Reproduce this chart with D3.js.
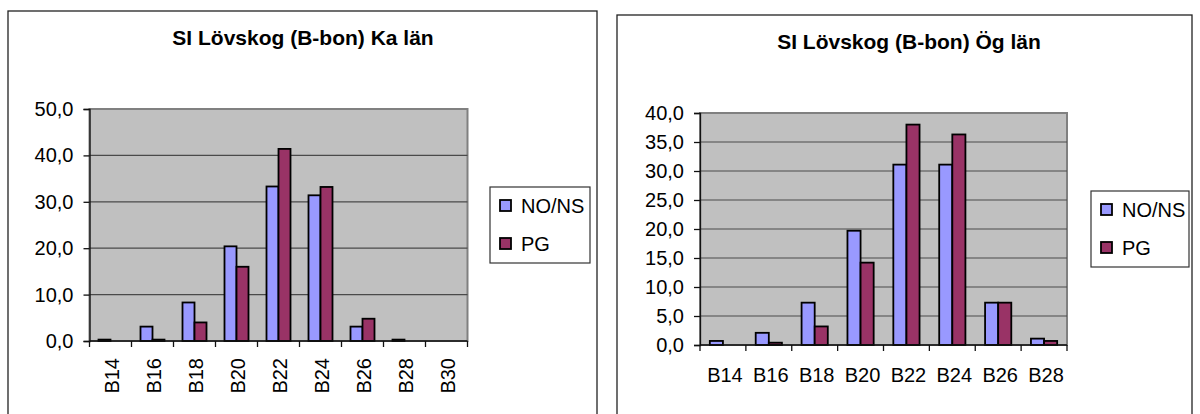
<!DOCTYPE html>
<html>
<head>
<meta charset="utf-8">
<script src="https://cdn.jsdelivr.net/npm/d3@7"></script>
<style>
  html, body { margin: 0; padding: 0; background: #fff; }
  svg { display: block; font-family: "Liberation Sans", Arial, sans-serif; }
</style>
</head>
<body>
<svg id="chart" width="1200" height="414"></svg>
<script>
// Series names shared by both panels
const seriesNames = ["NO/NS", "PG"];
const seriesColors = ["#9999FF", "#993366"];

// Panel 1: Kalmar län
const kaTitle = "SI Lövskog (B-bon) Ka län";
const kaCategories = ["B14", "B16", "B18", "B20", "B22", "B24", "B26", "B28", "B30"];
const kaNONS = [0.3, 3.1, 8.3, 20.4, 33.3, 31.4, 3.1, 0.3, 0];
const kaPG   = [0, 0.3, 4.0, 16.0, 41.4, 33.2, 4.8, 0, 0];
const kaTicks = [0, 10, 20, 30, 40, 50];

// Panel 2: Östergötlands län
const ogTitle = "SI Lövskog (B-bon) Ög län";
const ogCategories = ["B14", "B16", "B18", "B20", "B22", "B24", "B26", "B28"];
const ogNONS = [0.7, 2.1, 7.3, 19.7, 31.1, 31.1, 7.3, 1.1];
const ogPG   = [0, 0.4, 3.2, 14.2, 38.0, 36.3, 7.3, 0.7];
const ogTicks = [0, 5, 10, 15, 20, 25, 30, 35, 40];

const svg = d3.select("#chart");
const sv = d3.formatLocale({ decimal: ",", thousands: "\u00a0", grouping: [3], currency: ["", " kr"] });
const fmt = sv.format(".1f");

function drawPanel(cfg) {
  const g = svg.append("g");
  const { frame, plot, legend } = cfg;

  // outer chart frame (runs past the bottom of the view)
  g.append("rect")
    .attr("x", frame.x).attr("y", frame.y)
    .attr("width", frame.w).attr("height", frame.h)
    .attr("fill", "#fff").attr("stroke", "#222").attr("stroke-width", 1.3);

  // title
  g.append("text")
    .attr("x", cfg.titleX).attr("y", cfg.titleY)
    .attr("text-anchor", "middle")
    .attr("font-size", 21).attr("font-weight", "bold")
    .text(cfg.title);

  const x = d3.scaleBand().domain(cfg.categories).range([plot.x0, plot.x1]).padding(0);
  const y = d3.scaleLinear().domain([0, d3.max(cfg.ticks)]).range([plot.y1, plot.y0]);

  // plot area background
  g.append("rect")
    .attr("x", plot.x0).attr("y", plot.y0)
    .attr("width", plot.x1 - plot.x0).attr("height", plot.y1 - plot.y0)
    .attr("fill", "#C0C0C0").attr("stroke", "#808080").attr("stroke-width", 2);

  // gridlines
  g.append("g").selectAll("line")
    .data(cfg.ticks.filter(t => t > 0 && t < d3.max(cfg.ticks)))
    .join("line")
    .attr("x1", plot.x0).attr("x2", plot.x1)
    .attr("y1", d => y(d)).attr("y2", d => y(d))
    .attr("stroke", "#4a4a4a").attr("stroke-width", 1.2);

  // y axis
  const yAxis = d3.axisLeft(y).tickValues(cfg.ticks).tickFormat(fmt).tickSize(6).tickPadding(10);
  const ya = g.append("g").attr("transform", `translate(${plot.x0},0)`).call(yAxis);
  ya.select(".domain").attr("stroke", "#111").attr("stroke-width", 1.3);
  ya.selectAll(".tick line").attr("stroke", "#111").attr("stroke-width", 1.3);
  ya.selectAll(".tick text").attr("font-size", 20).attr("fill", "#000")
    .attr("font-family", "Liberation Sans, Arial, sans-serif");

  // bars
  const bw = x.bandwidth() / 3.5;
  const off = x.bandwidth() * 0.75 / 3.5;
  const series = [cfg.nons, cfg.pg];
  series.forEach((vals, si) => {
    g.append("g").selectAll("rect")
      .data(cfg.categories.map((c, i) => ({ c, v: vals[i] })).filter(d => d.v > 0))
      .join("rect")
      .attr("x", d => x(d.c) + off + si * bw)
      .attr("y", d => y(d.v))
      .attr("width", bw)
      .attr("height", d => y(0) - y(d.v))
      .attr("fill", seriesColors[si])
      .attr("stroke", "#000").attr("stroke-width", 1.8);
  });

  // x axis: ticks between categories
  const bounds = cfg.categories.map(c => x(c)).concat([plot.x1]);
  g.append("line")
    .attr("x1", plot.x0).attr("x2", plot.x1)
    .attr("y1", plot.y1).attr("y2", plot.y1)
    .attr("stroke", "#111").attr("stroke-width", 1.3);
  g.append("g").selectAll("line")
    .data(bounds).join("line")
    .attr("x1", d => d).attr("x2", d => d)
    .attr("y1", plot.y1).attr("y2", plot.y1 + 6)
    .attr("stroke", "#111").attr("stroke-width", 1.3);

  const labels = g.append("g").selectAll("text")
    .data(cfg.categories).join("text")
    .attr("font-size", 20).attr("fill", "#000")
    .text(d => d);
  if (cfg.rotate) {
    labels
      .attr("transform", d => `translate(${x(d) + x.bandwidth() / 2 + 1},${plot.y1 + 17}) rotate(-90)`)
      .attr("text-anchor", "end")
      .attr("dy", "0.35em");
  } else {
    labels
      .attr("x", d => x(d) + x.bandwidth() / 2 + 2)
      .attr("y", plot.y1 + 37)
      .attr("text-anchor", "middle");
  }

  // legend
  g.append("rect")
    .attr("x", legend.x).attr("y", legend.y)
    .attr("width", legend.w).attr("height", legend.h)
    .attr("fill", "#fff").attr("stroke", "#333").attr("stroke-width", 1.2);
  seriesNames.forEach((name, i) => {
    const cy = legend.y + legend.row0 + i * legend.step;
    g.append("rect")
      .attr("x", legend.x + 10).attr("y", cy - 6)
      .attr("width", 11).attr("height", 11)
      .attr("fill", seriesColors[i]).attr("stroke", "#000").attr("stroke-width", 1.8);
    g.append("text")
      .attr("x", legend.x + 31).attr("y", cy + 7)
      .attr("font-size", 20).attr("fill", "#000")
      .text(name);
  });
}

drawPanel({
  title: kaTitle, categories: kaCategories, nons: kaNONS, pg: kaPG, ticks: kaTicks,
  frame: { x: 8, y: 11, w: 589, h: 430 },
  titleX: 303, titleY: 45,
  plot: { x0: 89.5, x1: 467.5, y0: 109, y1: 341 },
  legend: { x: 490, y: 187, w: 100, h: 76, row0: 19, step: 38 },
  rotate: true
});

drawPanel({
  title: ogTitle, categories: ogCategories, nons: ogNONS, pg: ogPG, ticks: ogTicks,
  frame: { x: 617, y: 15, w: 575, h: 430 },
  titleX: 909, titleY: 49,
  plot: { x0: 700, x1: 1067, y0: 113, y1: 345 },
  legend: { x: 1091, y: 191, w: 98, h: 76, row0: 19, step: 38 },
  rotate: false
});
</script>
</body>
</html>
